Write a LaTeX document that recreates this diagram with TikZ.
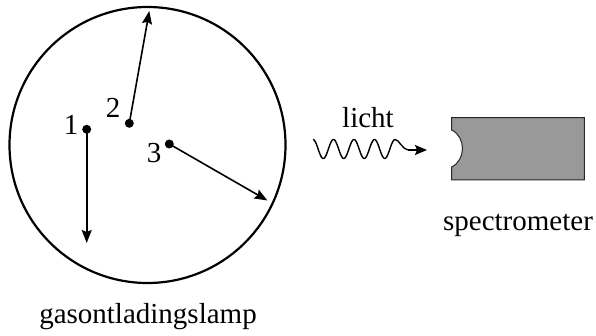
\documentclass[tikz,border=0pt]{standalone}
\usepackage{fontspec}
\setmainfont{Liberation Serif}
\usetikzlibrary{arrows.meta}
\tikzset{
	label text/.style={inner sep=0pt, font=\fontsize{29}{34}\selectfont},
	particle/.style={circle, fill=black, inner sep=0pt, minimum size=9pt},
	move/.style={line width=1.6pt, -{Stealth[length=13pt, width=10pt, inset=2pt]}}
}
\begin{document}
\begin{tikzpicture}[x=1pt, y=-1pt]
	\useasboundingbox (0,0) rectangle (596,336);
	% gas discharge lamp
	\node[circle, draw, line width=2.2pt, minimum size=276pt, inner sep=0pt] (lamp) at (147.5,145) {};
	\node[label text] (lamptext) at (148,317) {gasontladingslamp};

	\node[particle] (p1) at (86.7,129.3) {};
	\node[particle] (p2) at (129.3,123.3) {};
	\node[particle] (p3) at (169.3,144) {};
	\node[label text] (n1) at (71,125) {1};
	\node[label text] (n2) at (113,108) {2};
	\node[label text] (n3) at (154,153) {3};

	\coordinate (e1) at (86.7,243);
	\coordinate (e2) at (149.3,11);
	\coordinate (e3) at (267.5,200.5);
	\draw[move] (p1.center) -- (e1);
	\draw[move] (p2.center) -- (e2);
	\draw[move] (p3.center) -- (e3);

	% light
	\node[label text] (licht) at (368,118) {licht};
	\coordinate (w0) at (313,140);
	\coordinate (w1) at (427,150);
	\draw[line width=1.4pt] (w0) plot[domain=0:4, samples=120] ({313+20.5*\x}, {149-9.5*cos(360*\x)})
		.. controls (400,139.5) and (401,150) .. (410,150);
	\draw[line width=1.4pt, -{Stealth[length=12pt, width=10pt, inset=2pt]}] (408,150) -- (w1);

	% spectrometer
	\draw[fill=black!40, draw=black!85, line width=1pt] (451.7,117.7) coordinate (s0) -- (584.3,117.7) -- (584.3,180) -- (451.7,180) -- (451.7,167)
		.. controls (466,160) and (466,137) .. (451.7,130) -- cycle;
	\node[label text] (spectext) at (518,225) {spectrometer};
\end{tikzpicture}
\end{document}
